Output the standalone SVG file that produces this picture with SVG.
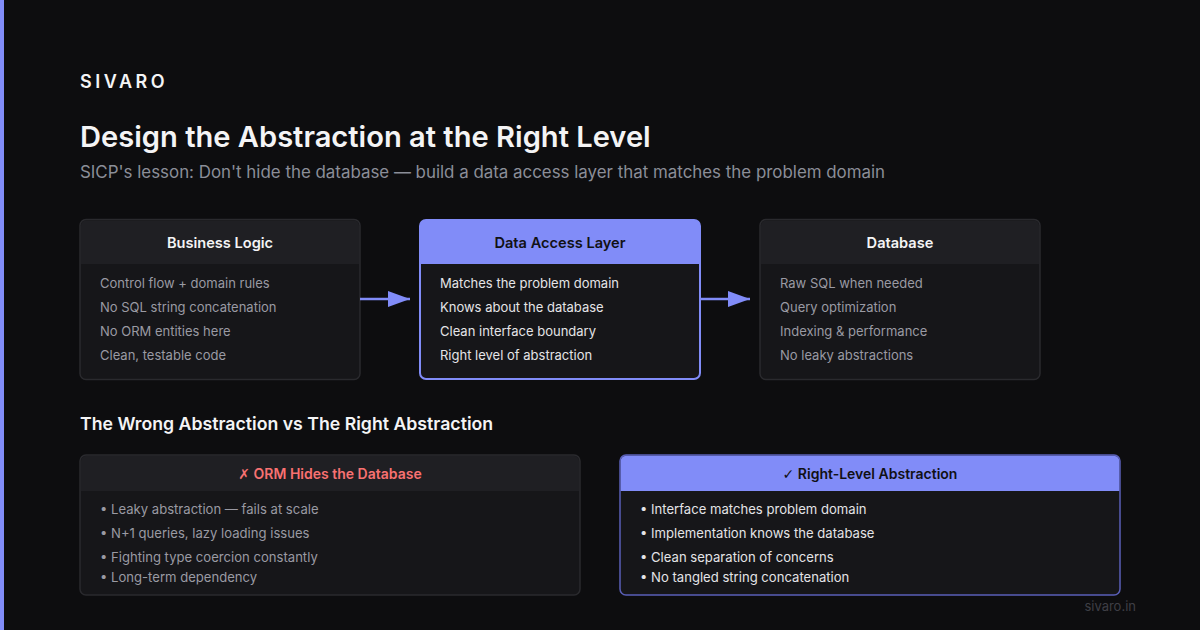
<svg xmlns="http://www.w3.org/2000/svg" width="1200" height="630" viewBox="0 0 1200 630">
<defs>
<style>
text{font-family:Inter,"Noto Sans","Liberation Sans",sans-serif}
.hd{font-size:14.6px;font-weight:600;text-anchor:middle}
.it{font-size:13px;fill:#9a9aa3}
.itl{font-size:13px;fill:#e4e4e7}
.bl{font-size:13.1px}
.sym{font-family:"DejaVu Sans",sans-serif}
.card{fill:#161619;stroke:#2a2a2e;stroke-width:1.5}
.hdr{fill:#1f1f23}
.conn{stroke:#818cf8;stroke-width:2.5;fill:none}
</style>
<marker id="ah" markerWidth="24" markerHeight="16" refX="22" refY="8" orient="auto" markerUnits="userSpaceOnUse" viewBox="0 0 24 16">
<path d="M0,0 L22,8 L0,16 z" fill="#818cf8"/>
</marker>
</defs>
<rect width="1200" height="630" fill="#0d0d0f"/>
<rect x="0" y="0" width="4" height="630" fill="#818cf8"/>
<text x="80" y="88" font-size="18" font-weight="600" fill="#f4f4f5" letter-spacing="3.5">SIVARO</text>
<text x="80" y="147" font-size="29.1" font-weight="600" fill="#f4f4f5">Design the Abstraction at the Right Level</text>
<text x="80" y="178" font-size="16.9" fill="#8b8e98">SICP's lesson: Don't hide the database — build a data access layer that matches the problem domain</text>

<g id="business-logic">
<rect class="card" x="80" y="219.5" width="280" height="160" rx="6"/>
<path class="hdr" d="M86,220.5 h268 a5,5 0 0 1 5,5 v38.5 h-278 v-38.5 a5,5 0 0 1 5,-5 z"/>
<text class="hd" x="220" y="248" fill="#f4f4f5">Business Logic</text>
<text class="it" x="100" y="288">Control flow + domain rules</text>
<text class="it" x="100" y="312">No SQL string concatenation</text>
<text class="it" x="100" y="336">No ORM entities here</text>
<text class="it" x="100" y="360">Clean, testable code</text>
</g>

<g id="data-access-layer">
<rect x="420" y="220" width="280" height="159" rx="6" fill="#161619" stroke="#818cf8" stroke-width="2"/>
<path d="M426,220 h268 a6,6 0 0 1 6,6 v38 h-280 v-38 a6,6 0 0 1 6,-6 z" fill="#818cf8"/>
<text class="hd" x="560" y="248" fill="#111114">Data Access Layer</text>
<text class="itl" x="440" y="288">Matches the problem domain</text>
<text class="itl" x="440" y="312">Knows about the database</text>
<text class="itl" x="440" y="336">Clean interface boundary</text>
<text class="itl" x="440" y="360">Right level of abstraction</text>
</g>

<g id="database">
<rect class="card" x="760" y="219.5" width="280" height="160" rx="6"/>
<path class="hdr" d="M766,220.5 h268 a5,5 0 0 1 5,5 v38.5 h-278 v-38.5 a5,5 0 0 1 5,-5 z"/>
<text class="hd" x="900" y="248" fill="#f4f4f5">Database</text>
<text class="it" x="780" y="288">Raw SQL when needed</text>
<text class="it" x="780" y="312">Query optimization</text>
<text class="it" x="780" y="336">Indexing &amp; performance</text>
<text class="it" x="780" y="360">No leaky abstractions</text>
</g>

<g id="connectors">
<line class="conn" x1="360" y1="299" x2="410" y2="299" marker-end="url(#ah)"/>
<line class="conn" x1="700" y1="299" x2="750" y2="299" marker-end="url(#ah)"/>
</g>

<text x="80" y="430" font-size="17.7" font-weight="600" fill="#f4f4f5">The Wrong Abstraction vs The Right Abstraction</text>

<g id="orm-hides">
<rect class="card" x="80" y="455" width="500" height="140" rx="6"/>
<path class="hdr" d="M86,456 h488 a5,5 0 0 1 5,5 v30 h-498 v-30 a5,5 0 0 1 5,-5 z"/>
<text x="330" y="479" font-size="14" font-weight="600" fill="#f87171" text-anchor="middle"><tspan class="sym">✗</tspan> ORM Hides the Database</text>
<text class="it bl" x="100" y="514">• Leaky abstraction — fails at scale</text>
<text class="it bl" x="100" y="538">• N+1 queries, lazy loading issues</text>
<text class="it bl" x="100" y="562">• Fighting type coercion constantly</text>
<text class="it bl" x="100" y="582">• Long-term dependency</text>
</g>

<g id="right-level">
<rect x="620" y="455" width="500" height="140" rx="6" fill="#161619" stroke="#5a5fb8" stroke-width="1.5"/>
<path d="M626,455.75 h488 a5.25,5.25 0 0 1 5.25,5.25 v30 h-498.5 v-30 a5.25,5.25 0 0 1 5.25,-5.25 z" fill="#818cf8"/>
<text x="870" y="479" font-size="14" font-weight="600" fill="#111114" text-anchor="middle"><tspan class="sym" font-weight="400">✓</tspan> Right-Level Abstraction</text>
<text class="itl bl" x="640" y="514">• Interface matches problem domain</text>
<text class="itl bl" x="640" y="538">• Implementation knows the database</text>
<text class="itl bl" x="640" y="562">• Clean separation of concerns</text>
<text class="itl bl" x="640" y="582">• No tangled string concatenation</text>
</g>

<text x="1136" y="611" font-size="13" fill="#3f3f46" text-anchor="end">sivaro.in</text>
</svg>
